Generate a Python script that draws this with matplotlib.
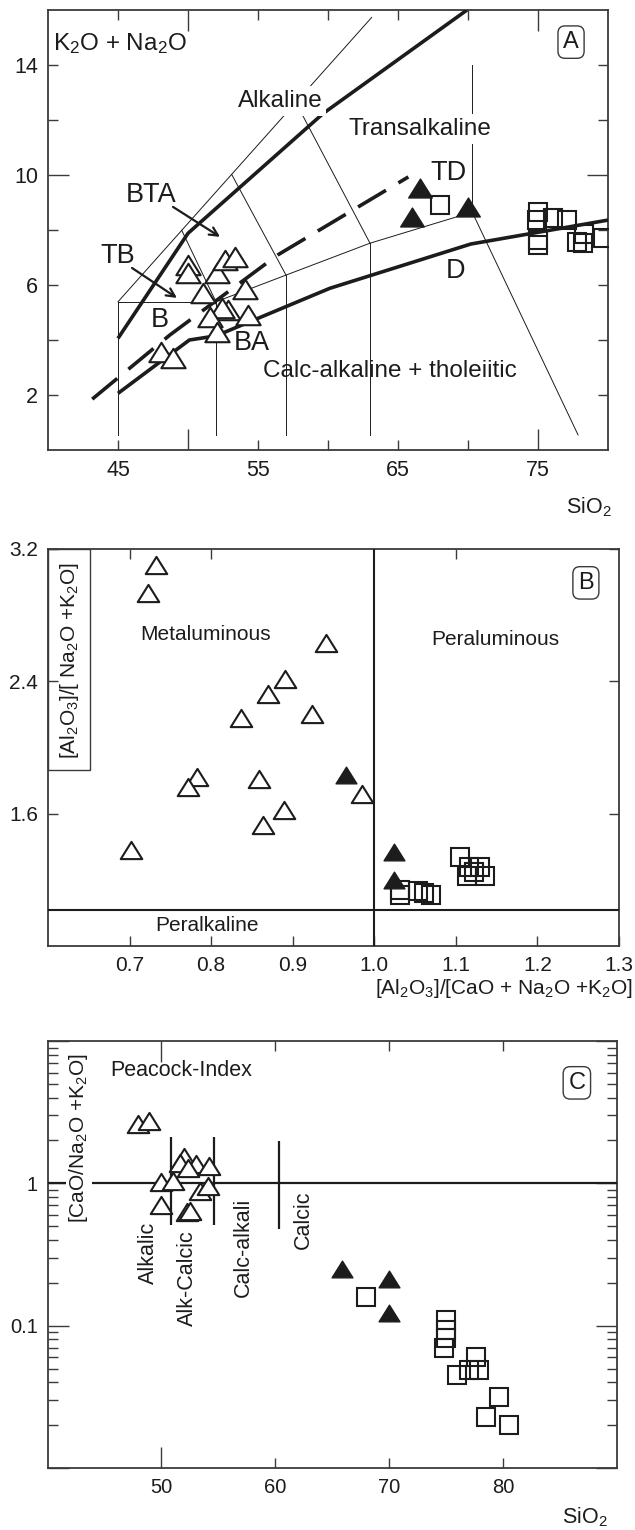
import matplotlib
matplotlib.use("Agg")
import matplotlib.pyplot as plt
from matplotlib.path import Path
from matplotlib.patches import Rectangle
from matplotlib.ticker import LogLocator, NullFormatter, FixedLocator

plt.rcParams['font.family'] = ['Liberation Sans', 'DejaVu Sans']
plt.rcParams['mathtext.fontset'] = 'custom'
plt.rcParams['mathtext.rm'] = 'Liberation Sans'
plt.rcParams['mathtext.default'] = 'regular'

INK = '#1c1c1c'
SPINE = '#3a3a3a'

# ---------------- Panel A: TAS diagram ----------------
tas_basic_sio2 = [50.02, 50.02, 52.05, 52.64, 53.36, 51.09, 54.07, 52.88, 52.41, 51.57, 54.31, 52.05, 48.07, 48.95]
tas_basic_alk = [6.73, 6.43, 6.43, 6.91, 7.03, 5.70, 5.84, 5.09, 5.16, 4.85, 4.91, 4.30, 3.57, 3.33]
tas_mid_sio2 = [66.57, 65.98, 70.02]
tas_mid_alk = [9.52, 8.48, 8.85]
tas_acid_sio2 = [68.0, 75.02, 74.91, 76.09, 77.05, 75.02, 75.02, 77.76, 78.21, 79.66, 78.3]
tas_acid_alk = [8.91, 8.67, 8.36, 8.43, 8.36, 7.64, 7.45, 7.57, 7.53, 7.70, 7.85]

# alkaline / transalkaline divide (thick)
alk_div_sio2 = [45.0, 50.0, 59.66, 69.93]
alk_div_alk = [4.06, 7.88, 12.24, 16.0]
# dashed divide
dash_div_sio2 = [43.16, 48.7, 56.4, 65.74]
dash_div_alk = [1.85, 4.18, 7.09, 9.93]
# transalkaline / calc-alkaline divide (thick)
calc_div_sio2 = [45.0, 50.1, 52.0, 60.13, 70.2, 80.0]
calc_div_alk = [2.06, 4.0, 4.15, 5.88, 7.49, 8.36]

# thin field boundaries of the TAS grid
tas_fields = [
    ([45.0, 45.0], [0.55, 5.39]),
    ([45.0, 52.0], [5.39, 5.39]),
    ([52.0, 52.0], [0.55, 5.39]),
    ([45.0, 63.12], [5.39, 15.73]),
    ([49.55, 52.0], [7.99, 5.39]),
    ([52.0, 57.0, 63.0, 70.3], [5.39, 6.36, 7.52, 8.65]),
    ([57.0, 57.0], [0.55, 6.36]),
    ([53.12, 57.0], [10.02, 6.36]),
    ([63.0, 63.0], [0.55, 7.52]),
    ([57.7, 63.0], [12.64, 7.52]),
    ([70.3, 70.3], [8.65, 14.0]),
    ([70.3, 77.86], [8.65, 0.55]),
]

# ---------------- Panel B: A/NK vs A/CNK ----------------
acnk_basic = [0.7325, 0.722, 0.891, 0.870, 0.836, 0.9235, 0.941, 0.7825, 0.772, 0.859, 0.889, 0.863, 0.7015, 0.985]
ank_basic = [3.10, 2.93, 2.41, 2.32, 2.18, 2.20, 2.63, 1.82, 1.76, 1.81, 1.62, 1.53, 1.38, 1.72]
acnk_mid = [0.965, 1.0245, 1.0245]
ank_mid = [1.83, 1.37, 1.20]
acnk_acid = [1.1055, 1.116, 1.130, 1.1135, 1.136, 1.122, 1.031, 1.031, 1.054, 1.061, 1.069]
ank_acid = [1.34, 1.28, 1.28, 1.22, 1.22, 1.25, 1.14, 1.11, 1.13, 1.12, 1.11]

# ---------------- Panel C: Peacock index ----------------
pc_basic_sio2 = [47.95, 48.9, 52.0, 51.6, 53.07, 54.2, 52.3, 50.0, 51.0, 53.4, 54.1, 50.0, 52.2, 52.5]
pc_basic_ratio = [2.6, 2.74, 1.52, 1.40, 1.37, 1.33, 1.29, 1.02, 1.04, 0.89, 0.96, 0.71, 0.63, 0.64]
pc_mid_sio2 = [65.87, 69.96, 69.96]
pc_mid_ratio = [0.252, 0.214, 0.122]
pc_acid_sio2 = [67.98, 75.0, 75.0, 75.0, 74.8, 77.6, 77.0, 77.9, 75.97, 79.7, 78.5, 80.5]
pc_acid_ratio = [0.158, 0.110, 0.093, 0.0817, 0.0695, 0.0607, 0.049, 0.049, 0.045, 0.0316, 0.0229, 0.020]
peacock_div_sio2 = [50.8, 54.64, 60.33]
peacock_div_lo = [0.509, 0.509, 0.475]
peacock_div_hi = [2.13, 2.13, 1.99]

W, H = 635, 1530
fig = plt.figure(figsize=(W / 100, H / 100), dpi=100)


def px_axes(l, t, r, b):
    return fig.add_axes([l / W, 1 - b / H, (r - l) / W, (b - t) / H])


tri = Path([(-1, -0.8), (1, -0.8), (0, 0.8), (-1, -0.8)],
           [Path.MOVETO, Path.LINETO, Path.LINETO, Path.CLOSEPOLY])
SQ_MS, MEW = 13.5, 1.5


def scatter_groups(ax, basic, mid, acid, tri_ms=15.5):
    ax.plot(*basic, ls='none', marker=tri, ms=tri_ms, mfc='white', mec=INK, mew=MEW, zorder=5)
    ax.plot(*acid, ls='none', marker='s', ms=SQ_MS, mfc='none', mec=INK, mew=MEW, zorder=5)
    ax.plot(*mid, ls='none', marker=tri, ms=tri_ms - 0.5, mfc=INK, mec=INK, mew=1.0, zorder=6)


def style_axes(ax):
    for s in ax.spines.values():
        s.set_color(SPINE)
        s.set_linewidth(1.3)
    ax.tick_params(which='both', direction='in', top=True, right=True,
                   color=SPINE, width=1.0, length=7.2, pad=7)


def tag(ax, x, y, letter):
    ax.text(x, y, letter, transform=ax.transAxes, ha='center', va='center', fontsize=17,
            color=INK, bbox=dict(boxstyle='round,pad=0.22,rounding_size=0.3', fc='white',
                                 ec=SPINE, lw=1.0), zorder=10)


def lengthen(ticks, locs, values, length):
    for t, v in zip(ticks, locs):
        if any(abs(v - w) < 1e-9 for w in values):
            t.tick1line.set_markersize(length)
            t.tick2line.set_markersize(length)


# ================= Panel A =================
axA = px_axes(48, 10, 608, 450)
style_axes(axA)
axA.set_xlim(40, 80)
axA.set_ylim(0, 16)
xt = [45, 50, 55, 60, 65, 70, 75]
axA.set_xticks(xt)
axA.set_xticklabels(['45', '', '55', '', '65', '', '75'], fontsize=15.5, color=INK)
yt = [2, 4, 6, 8, 10, 12, 14]
axA.set_yticks(yt)
axA.set_yticklabels(['2', '', '6', '', '10', '', '14'], fontsize=15.5, color=INK)
lengthen(axA.xaxis.get_major_ticks(), xt, [50, 75], 15)
lengthen(axA.yaxis.get_major_ticks(), yt, [10], 15)

for xs, ys in tas_fields:
    axA.plot(xs, ys, color=INK, lw=0.7, zorder=2)
axA.plot(alk_div_sio2, alk_div_alk, color=INK, lw=2.6, zorder=3, solid_capstyle='butt')
axA.plot(calc_div_sio2, calc_div_alk, color=INK, lw=2.6, zorder=3, solid_capstyle='butt')
axA.plot(dash_div_sio2, dash_div_alk, color=INK, lw=2.6, zorder=3, dashes=(9, 4),
         dash_capstyle='butt')

scatter_groups(axA, (tas_basic_sio2, tas_basic_alk), (tas_mid_sio2, tas_mid_alk),
               (tas_acid_sio2, tas_acid_alk), tri_ms=17.5)

wbox = dict(boxstyle='square,pad=0.15', fc='white', ec='none')
axA.text(56.57, 12.69, 'Alkaline', fontsize=17.5, ha='center', va='center', color=INK,
         bbox=wbox, zorder=4)
axA.text(66.57, 11.67, 'Transalkaline', fontsize=17.5, ha='center', va='center', color=INK,
         bbox=wbox, zorder=4)
axA.text(64.43, 2.87, 'Calc-alkaline + tholeiitic', fontsize=17.5, ha='center', va='center',
         color=INK, zorder=4)
for s, x, y in [('TD', 68.57, 10.07), ('BTA', 47.36, 9.27), ('TB', 45.0, 7.05),
                ('B', 48.0, 4.73), ('BA', 54.57, 3.89), ('D', 69.14, 6.51)]:
    axA.text(x, y, s, fontsize=19.5, ha='center', va='center', color=INK, zorder=7)
arrow = dict(arrowstyle='->,head_length=0.6,head_width=0.3', color=INK, lw=1.6,
             shrinkA=0, shrinkB=0)
axA.annotate('', xy=(52.29, 7.75), xytext=(48.93, 8.84), arrowprops=arrow, zorder=7)
axA.annotate('', xy=(49.21, 5.53), xytext=(46.0, 6.62), arrowprops=arrow, zorder=7)

axA.text(0.009, 0.909, 'K$_2$O + Na$_2$O', transform=axA.transAxes, fontsize=17.5,
         ha='left', va='baseline', color=INK)
axA.text(1.007, -0.13, 'SiO$_2$', transform=axA.transAxes, fontsize=15.5, ha='right',
         va='center', color=INK)
tag(axA, 0.934, 0.927, 'A')

# ================= Panel B =================
axB = px_axes(48, 548.7, 619, 946)
style_axes(axB)
axB.set_xlim(0.6, 1.3)
axB.set_ylim(0.8, 3.2)
bx = [0.7, 0.8, 0.9, 1.0, 1.1, 1.2, 1.3]
axB.set_xticks(bx)
axB.set_xticklabels([f'{v:.1f}' for v in bx], fontsize=15, color=INK)
axB.set_yticks([1.6, 2.4, 3.2])
axB.set_yticklabels(['1.6', '2.4', '3.2'], fontsize=15, color=INK)
for t, v in zip(axB.xaxis.get_major_ticks(), bx):
    if v in (0.9, 1.0, 1.2, 1.3):
        t.tick2line.set_visible(False)

axB.axvline(1.0, color=INK, lw=1.5, zorder=3)
axB.axhline(1.02, color=INK, lw=1.5, zorder=3)
scatter_groups(axB, (acnk_basic, ank_basic), (acnk_mid, ank_mid), (acnk_acid, ank_acid))

axB.text(0.7937, 2.679, 'Metaluminous', fontsize=15, ha='center', va='center', color=INK)
axB.text(1.148, 2.649, 'Peraluminous', fontsize=15, ha='center', va='center', color=INK)
axB.text(0.795, 0.921, 'Peralkaline', fontsize=15, ha='center', va='center', color=INK)

axB.add_patch(Rectangle((0, 0.443), 0.0736, 0.557, transform=axB.transAxes, fill=False,
                        ec=SPINE, lw=1.0, clip_on=False, zorder=4))
axB.text(0.037, 0.717, '[Al$_2$O$_3$]/[ Na$_2$O +K$_2$O]', transform=axB.transAxes,
         rotation=90, fontsize=15, ha='center', va='center', color=INK)
axB.text(1.023, -0.106, '[Al$_2$O$_3$]/[CaO + Na$_2$O +K$_2$O]', transform=axB.transAxes,
         fontsize=15, ha='right', va='center', color=INK)
tag(axB, 0.942, 0.914, 'B')

# ================= Panel C =================
axC = px_axes(47.7, 1041, 616.7, 1468)
style_axes(axC)
axC.set_xlim(40, 90)
axC.set_yscale('log')
axC.set_ylim(0.01, 10)
cx = [50, 60, 70, 80]
axC.set_xticks(cx)
axC.set_xticklabels([str(v) for v in cx], fontsize=14.5, color=INK)
lengthen(axC.xaxis.get_major_ticks(), cx, [50], 15)
axC.yaxis.set_major_locator(FixedLocator([0.01, 0.1, 1, 10]))
axC.set_yticklabels(['', '0.1', '1', ''], fontsize=14.5, color=INK)
axC.yaxis.set_minor_locator(LogLocator(base=10, subs=range(2, 10)))
axC.yaxis.set_minor_formatter(NullFormatter())
axC.tick_params(axis='y', which='major', length=15)
axC.tick_params(axis='y', which='minor', length=7.2)

axC.axhline(1.0, color=INK, lw=1.6, zorder=3)
axC.vlines(peacock_div_sio2, peacock_div_lo, peacock_div_hi, color=INK, lw=1.6, zorder=3)
scatter_groups(axC, (pc_basic_sio2, pc_basic_ratio), (pc_mid_sio2, pc_mid_ratio),
               (pc_acid_sio2, pc_acid_ratio))

for s, x, y in [('Alkalic', 48.82, 0.324), ('Alk-Calcic', 52.24, 0.216),
                ('Calc-alkali', 57.16, 0.357), ('Calcic', 62.43, 0.552)]:
    axC.text(x, y, s, rotation=90, fontsize=15.5, ha='center', va='center', color=INK)
axC.text(51.7, 6.25, 'Peacock-Index', fontsize=15.5, ha='center', va='center', color=INK)
axC.text(0.055, 0.773, '[CaO/Na$_2$O +K$_2$O]', transform=axC.transAxes, rotation=90,
         fontsize=15, ha='center', va='center', color=INK,
         bbox=dict(boxstyle='square,pad=0.05', fc='white', ec='none'), zorder=4)
axC.text(0.985, -0.115, 'SiO$_2$', transform=axC.transAxes, fontsize=15.5, ha='right',
         va='center', color=INK)
tag(axC, 0.930, 0.902, 'C')

fig.savefig('out.png', dpi=100)
